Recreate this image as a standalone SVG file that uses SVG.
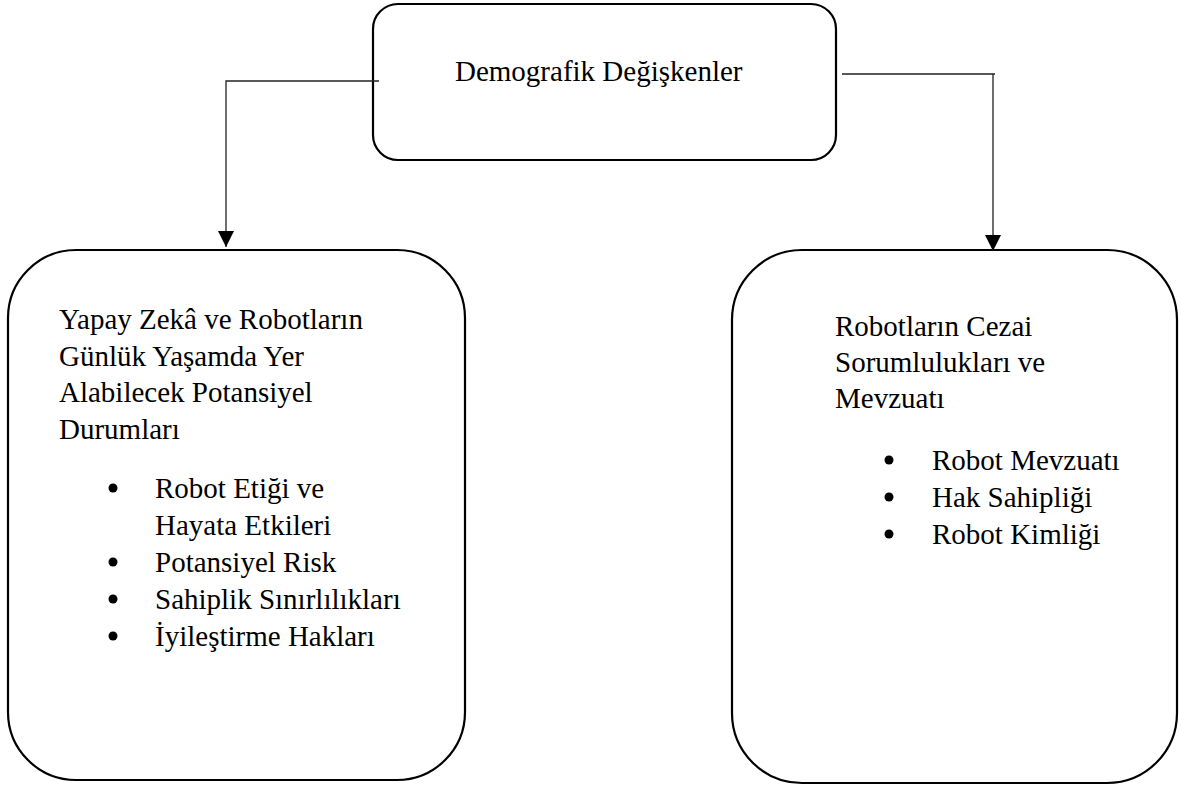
<svg xmlns="http://www.w3.org/2000/svg" width="1181" height="785" viewBox="0 0 1181 785">
<style>
.box{fill:#fff;stroke:#000;stroke-width:2.2}
.conn{fill:none;stroke:#222;stroke-width:1.3}
.t{font-family:"Liberation Serif","Times New Roman",serif;font-size:29px;fill:#000}
.dot{fill:#000}
</style>
<defs>
<marker id="arr" viewBox="0 0 16 16" refX="16" refY="8" markerWidth="16" markerHeight="16" markerUnits="userSpaceOnUse" orient="auto">
<path d="M0,0 L16,8 L0,16 Z" fill="#000"/>
</marker>
</defs>
<rect width="1181" height="785" fill="#fff"/>
<g id="node-demografik">
<rect class="box" x="373" y="4" width="463" height="156" rx="25" ry="25"/>
<text class="t" x="455" y="81">Demografik Değişkenler</text>
</g>
<g id="node-left">
<rect class="box" x="8" y="250" width="457" height="530" rx="68" ry="68"/>
<text class="t" x="59" y="329">Yapay Zekâ ve Robotların</text>
<text class="t" x="59" y="365.5">Günlük Yaşamda Yer</text>
<text class="t" x="59" y="402">Alabilecek Potansiyel</text>
<text class="t" x="59" y="438.5">Durumları</text>
<circle class="dot" cx="113" cy="488" r="4.5"/>
<text class="t" x="155" y="498">Robot Etiği ve</text>
<text class="t" x="155" y="535">Hayata Etkileri</text>
<circle class="dot" cx="113" cy="562" r="4.5"/>
<text class="t" x="155" y="572">Potansiyel Risk</text>
<circle class="dot" cx="113" cy="599" r="4.5"/>
<text class="t" x="155" y="609">Sahiplik Sınırlılıkları</text>
<circle class="dot" cx="113" cy="636" r="4.5"/>
<text class="t" x="155" y="646">İyileştirme Hakları</text>
</g>
<g id="node-right">
<rect class="box" x="732" y="250" width="445" height="533" rx="70" ry="70"/>
<text class="t" x="835" y="336">Robotların Cezai</text>
<text class="t" x="835" y="372">Sorumlulukları ve</text>
<text class="t" x="835" y="408">Mevzuatı</text>
<circle class="dot" cx="889" cy="460" r="4.5"/>
<text class="t" x="932" y="470">Robot Mevzuatı</text>
<circle class="dot" cx="889" cy="497" r="4.5"/>
<text class="t" x="932" y="507">Hak Sahipliği</text>
<circle class="dot" cx="889" cy="534" r="4.5"/>
<text class="t" x="932" y="544">Robot Kimliği</text>
</g>
<g id="connectors">
<path class="conn" d="M379,81 H226 V247" marker-end="url(#arr)"/>
<path class="conn" d="M842,74 H995 M993,74 V251" marker-end="url(#arr)"/>
</g>
</svg>
